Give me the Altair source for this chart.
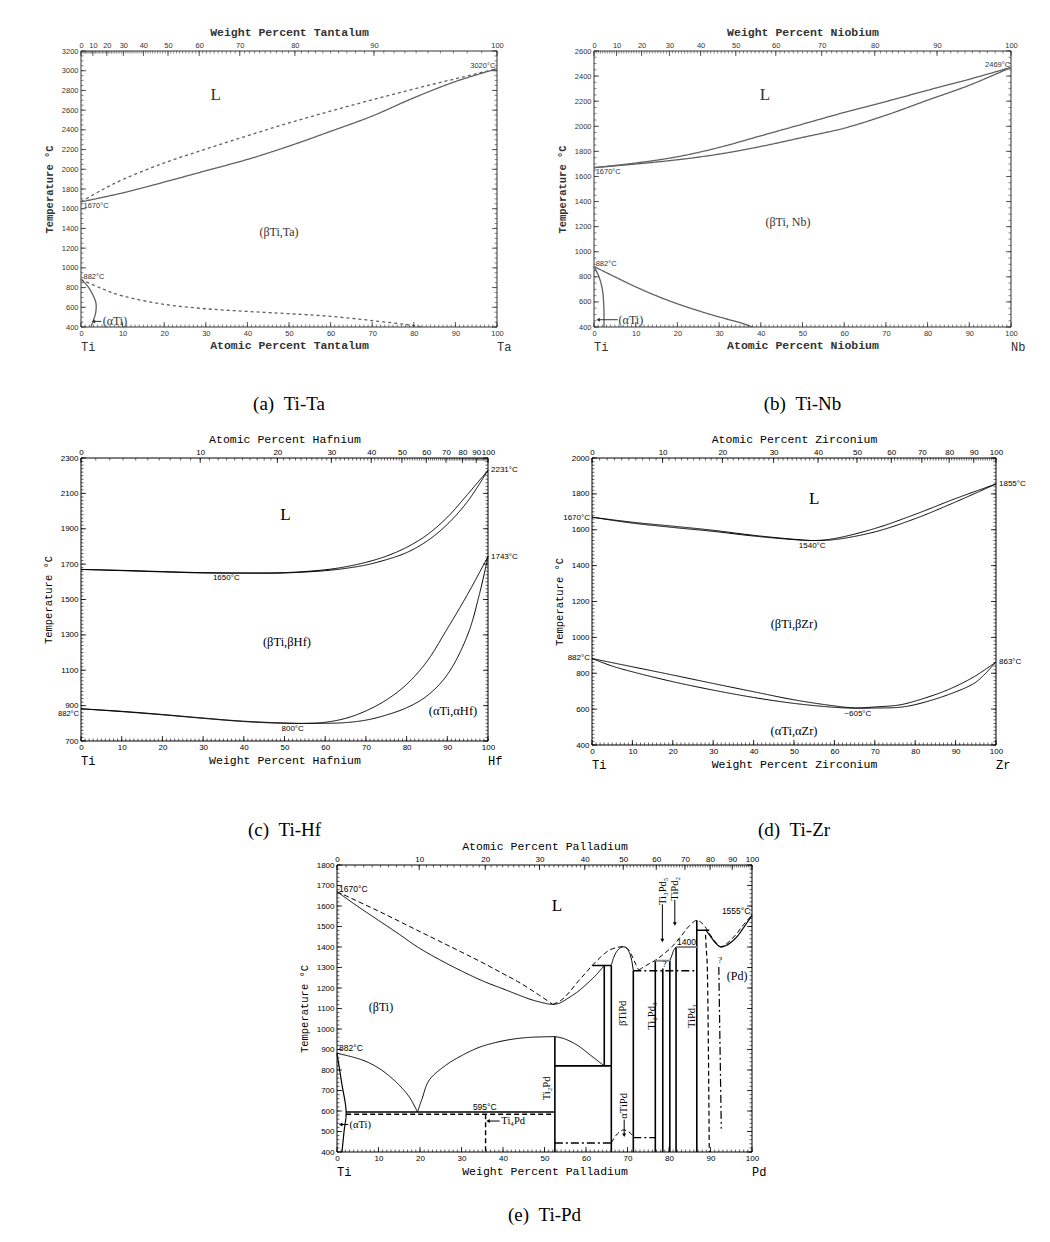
import altair as alt
import pandas as pd

SERIF = "Liberation Serif"
MONO = "Liberation Mono"
SANS = "Liberation Sans"

M_TI, M_TA, M_NB, M_HF, M_ZR, M_PD = 47.867, 180.948, 92.906, 178.49, 91.224, 106.42


def wt_to_at(w, m):
    return 100.0 * (w / m) / ((w / m) + (100.0 - w) / M_TI)


def at_to_wt(a, m):
    return 100.0 * a * m / (a * m + (100.0 - a) * M_TI)


def expr_at_to_wt(m):
    return f"format(100*datum.value*{m}/(datum.value*{m}+(100-datum.value)*{M_TI}),'.0f')"


def expr_wt_to_at(m):
    return f"format(100*(datum.value/{m})/((datum.value/{m})+(100-datum.value)/{M_TI}),'.0f')"


# ---------------- (a) Ti-Ta  (x = atomic % Ta) ----------------
TA_LIQ = [(0, 1670), (5, 1790), (10, 1895), (20, 2065), (30, 2205), (40, 2340), (50, 2470), (60, 2590),
          (70, 2705), (80, 2815), (90, 2918), (100, 3020)]
TA_SOL = [(0, 1670), (10, 1760), (20, 1870), (30, 1985), (40, 2100), (50, 2235), (60, 2385),
          (70, 2540), (80, 2725), (90, 2890), (100, 3020)]
TA_BETA = [(0, 882), (5, 790), (10, 715), (20, 630), (30, 585), (40, 558), (50, 535), (60, 508),
           (70, 465), (80, 415), (82, 400)]
TA_ALPHA = [(0, 882), (1.5, 820), (2.8, 730), (3.6, 640), (3.5, 540), (2.9, 460), (2.4, 400)]
TA_REGION = [("L", 32.4, 2755, 17), ("(βTi,Ta)", 47.6, 1360, 12)]
TA_TEMP_LEFT = [("1670°C", 0.6, 1623), ("882°C", 0.6, 910)]
TA_TEMP_RIGHT = [("3020°C", 99.6, 3045)]
TA_TEXT_LEFT = [("(αTi)", 5.2, 457)]
TA_ARROWS = [(4.9, 457, 3.0, 457, "triangle-left")]

# ---------------- (b) Ti-Nb  (x = atomic % Nb) ----------------
NB_LIQ = [(0, 1670), (10, 1707), (20, 1757), (30, 1831), (40, 1924), (50, 2017), (60, 2110),
          (70, 2197), (80, 2287), (90, 2375), (100, 2469)]
NB_SOL = [(0, 1670), (10, 1699), (20, 1733), (30, 1778), (40, 1839), (50, 1911), (60, 1985),
          (70, 2088), (80, 2208), (90, 2327), (100, 2469)]
NB_BETA = [(0, 882), (5, 800), (10, 720), (15, 648), (20, 585), (25, 530), (30, 480), (35, 435), (38, 400)]
NB_ALPHA = [(0, 882), (1.2, 800), (2.0, 700), (2.3, 600), (2.4, 500), (2.4, 400)]
NB_REGION = [("L", 41, 2250, 17), ("(βTi, Nb)", 46.5, 1235, 12)]
NB_TEMP_LEFT = [("1670°C", 0.4, 1633), ("882°C", 0.4, 906)]
NB_TEMP_RIGHT = [("2469°C", 99.8, 2490)]
NB_TEXT_LEFT = [("(αTi)", 5.9, 458)]
NB_ARROWS = [(5.7, 458, 1.0, 458, "triangle-left")]

# ---------------- (c) Ti-Hf  (x = weight % Hf) ----------------
HF_LIQ = [(0, 1670), (10, 1665), (20, 1658), (30, 1652), (40, 1650), (50, 1652), (60, 1668), (65, 1685),
          (70, 1710), (75, 1745), (80, 1795), (85, 1865), (90, 1965), (95, 2095), (100, 2231)]
HF_SOL = [(0, 1670), (10, 1663), (20, 1656), (30, 1650), (40, 1649), (50, 1650), (60, 1663), (65, 1676),
          (70, 1695), (75, 1725), (80, 1765), (85, 1830), (90, 1925), (95, 2055), (100, 2231)]
HF_BETA = [(0, 882), (10, 868), (20, 850), (30, 830), (40, 812), (50, 802), (55, 800), (60, 806), (65, 828),
           (70, 870), (75, 932), (80, 1020), (85, 1150), (90, 1335), (95, 1530), (100, 1743)]
HF_ALPHA = [(0, 882), (10, 866), (20, 848), (30, 828), (40, 810), (50, 800), (60, 800), (65, 804), (70, 818),
            (74, 840), (80, 888), (85, 955), (90, 1075), (95, 1300), (98, 1540), (100, 1743)]
HF_REGION = [("L", 50.2, 1979, 17), ("(βTi,βHf)", 50.6, 1262, 12.5), ("(αTi,αHf)", 91.4, 872, 12.5)]
HF_TEMP_CENTER = [("1650°C", 35.7, 1619), ("800°C", 52, 768)]
HF_TEMP_OUT_RIGHT = [("2231°C", 100, 2234), ("1743°C", 100, 1740)]
HF_TEMP_OUT_LEFT = [("882°C", 0, 853)]

# ---------------- (d) Ti-Zr  (x = weight % Zr) ----------------
ZR_LIQ = [(0, 1670), (10, 1642), (20, 1620), (30, 1597), (40, 1569), (50, 1547), (55, 1540), (60, 1551),
          (70, 1607), (80, 1686), (90, 1774), (100, 1855)]
ZR_SOL = [(0, 1670), (10, 1637), (20, 1613), (30, 1591), (40, 1565), (50, 1545), (55, 1540), (60, 1545),
          (70, 1588), (80, 1662), (90, 1755), (100, 1855)]
ZR_BETA = [(0, 882), (10, 836), (20, 790), (30, 743), (40, 697), (50, 652), (60, 618), (65, 607), (70, 612),
           (76, 623), (80, 645), (88, 707), (94.6, 781), (100, 863)]
ZR_ALPHA = [(0, 882), (5, 840), (10, 808), (20, 753), (30, 706), (40, 665), (50, 632), (60, 610), (65, 605),
            (70, 606), (76, 610), (80, 625), (88, 679), (94.6, 744), (97, 790), (100, 863)]
ZR_REGION = [("L", 55, 1770, 17), ("(βTi,βZr)", 50, 1074, 12.5), ("(αTi,αZr)", 50, 480, 12.5)]
ZR_TEMP_CENTER = [("1540°C", 54.5, 1510), ("~605°C", 65.8, 573)]
ZR_TEMP_OUT_RIGHT = [("1855°C", 100, 1857), ("863°C", 100, 863)]
ZR_TEMP_OUT_LEFT = [("1670°C", 0, 1668), ("882°C", 0, 883)]

# ---------------- (e) Ti-Pd  (x = weight % Pd) ----------------
PD_LIQ_L = [(0, 1670), (5, 1598), (10, 1530), (15, 1462), (19.4, 1400), (25, 1335), (30, 1283), (35.4, 1232),
            (40, 1196), (43.5, 1168), (47, 1142), (51, 1122), (52, 1120)]
PD_LIQ_L_DASH = [(0, 1670), (10, 1575), (20, 1475), (30, 1375), (35.4, 1320), (40, 1270), (43.5, 1232),
                 (48, 1175), (52, 1120)]
PD_LIQ_M = [(52, 1120), (53.5, 1125), (55.5, 1148), (58, 1182), (60.3, 1222), (62.5, 1265), (64.4, 1310)]
PD_LIQ_M_DASH = [(52, 1120), (54, 1140), (56, 1180), (58, 1230), (60, 1275), (61.5, 1310), (63.5, 1350),
                 (65.5, 1383), (67.5, 1398), (69, 1401), (70, 1392), (71, 1360), (72, 1315), (72.7, 1287)]
PD_BTIPD = [(66.1, 1310), (66.6, 1345), (67.3, 1375), (68.2, 1395), (69, 1401), (69.8, 1395), (70.5, 1370),
            (71, 1335), (71.4, 1284)]
PD_LIQ_R_DASH = [(72.7, 1287), (74.5, 1310), (76.7, 1335), (78.5, 1362), (80.7, 1401), (83.1, 1458), (85, 1505),
                 (86.7, 1530), (88, 1515), (89, 1490), (90, 1458), (91.3, 1422), (92.4, 1401), (94, 1418),
                 (96, 1458), (98, 1510), (100, 1555)]
PD_LIQ_R = [(88.9, 1482), (90, 1452), (91.2, 1420), (92.4, 1401), (94, 1410), (96, 1442), (98, 1495), (100, 1555)]
PD_ALPHA = [(0, 882), (1.1, 740), (2.2, 595), (1.7, 500), (1.2, 400)]
PD_BETA_L = [(0, 882), (6.2, 848), (10.2, 807), (14.2, 742), (17.4, 669), (19.4, 595)]
PD_BETA_R = [(19.4, 595), (20.5, 660), (22.2, 750), (26.2, 823), (30.2, 872), (34.2, 910), (38.2, 934),
             (42.2, 950), (46.3, 959), (52.5, 963)]
PD_TI2PD_R = [(52.5, 963), (54.7, 953), (57.9, 921), (61.1, 872), (64.4, 820)]
PD_ATIPD = [(66.1, 444), (67.2, 480), (68.2, 500), (69.1, 508), (70, 502), (70.8, 490), (71.4, 478)]
PD_TIPD2_EDGE = [(80.2, 1333), (80.7, 1360), (81.1, 1382), (81.7, 1400)]
PD_DASH_V = [(88.8, 1460), (89.0, 1385), (89.2, 1320), (89.7, 400)]
PD_DASHDOT_V = [(92.0, 1303), (92.6, 514)]
PD_SOLID_SEGS = [[(61.5, 1310), (66.1, 1310)], [(64.4, 1310), (64.4, 820)], [(66.1, 1310), (66.1, 400)],
                 [(52.5, 820), (66.1, 820)], [(52.5, 963), (52.5, 400)], [(2.2, 595), (52.5, 595)],
                 [(71.4, 1284), (71.4, 400)], [(76.7, 1333), (76.7, 400)], [(78.5, 1295), (78.5, 400)],
                 [(80.2, 1333), (80.2, 400)], [(81.7, 1400), (81.7, 400)], [(86.7, 1531), (86.7, 400)],
                 [(86.7, 1482), (89.7, 1482)]]
PD_GRAY_SEGS = [[(76.7, 1333), (80.2, 1333)], [(81.7, 1400), (86.7, 1400)]]
PD_DASH_SEGS = [[(2.2, 584), (52.5, 584)], [(35.8, 584), (35.8, 400)]]
PD_DASHDOT_SEGS = [[(52.5, 444), (66.1, 444)], [(71.4, 470), (76.7, 470)], [(71.4, 1284), (86.7, 1284)]]
PD_REGION = [("L", 53, 1600, 17), ("(βTi)", 10.6, 1105, 12), ("(Pd)", 96.4, 1259, 12),
             ("?", 78.9, 1318, 9), ("?", 92.3, 1335, 9)]
PD_TEMP_LEFT = [("1670°C", 0.5, 1683), ("882°C", 0.5, 908)]
PD_TEMP_CENTER = [("595°C", 35.6, 619), ("1400", 84.2, 1422)]
PD_TEMP_RIGHT = [("1555°C", 99.6, 1574)]
PD_TEXT_LEFT = [("Ti₄Pd", 39.6, 551), ("(αTi)", 3.0, 534)]
PD_VERTICAL = [("Ti₂Pd", 50.6, 710), ("βTiPd", 69.0, 1076), ("αTiPd", 69.2, 625), ("Ti₂Pd₃", 75.9, 1063),
               ("TiPd₃", 85.6, 1063), ("Ti₃Pd₅", 78.5, 1672), ("TiPd₂", 81.4, 1684)]
PD_ARROWS = [(39.2, 551, 36.4, 551, "triangle-left"), (2.7, 534, 0.9, 534, "triangle-left"),
             (69.2, 558, 69.2, 482, "triangle-down"), (78.4, 1608, 78.4, 1432, "triangle-down"),
             (81.4, 1630, 81.4, 1512, "triangle-down")]

DASH_NAMES = ["solid", "dashed", "dashdot", "shortdash"]
DASH_PATTERNS = [[1, 0], [5, 3], [8, 3, 2, 3], [3, 3]]


def make_panel(cfg):
    W, H = cfg["W"], cfg["H"]
    ink = cfg["ink"]
    ymin, ymax = cfg["ymin"], cfg["ymax"]
    xs = alt.Scale(domain=[0, 100], nice=False, zero=False)
    ys = alt.Scale(domain=[ymin, ymax], nice=False, zero=False)

    rows = []
    for g, (pts, dash, w, c) in enumerate(cfg["lines"]):
        for i, (x, t) in enumerate(pts):
            rows.append({"x": x, "T": t, "g": g, "i": i, "dash": dash, "w": w, "c": c})
    ldf = pd.DataFrame(rows)

    xaxis = alt.Axis(orient="bottom", values=list(range(0, 101, 10)), format="d", ticks=False, domain=False,
                     grid=False, labelFont=SANS, labelFontSize=cfg["tfs"], labelColor=ink, labelPadding=2,
                     labelFlush=False, labelOverlap=False, title=cfg["bottom_title"], titleFont=MONO,
                     titleFontSize=11.5, titleFontWeight=cfg["tw"], titleColor=ink, titlePadding=3)
    yaxis = alt.Axis(orient="left", values=list(range(ymin, ymax + 1, cfg["ystep"])), format="d", ticks=False,
                     domain=False, grid=False,
                     labelFont=SANS, labelFontSize=cfg["tfs"], labelColor=ink, labelPadding=3,
                     labelFlush=False, labelOverlap=False, title="Temperature °C", titleFont=MONO,
                     titleFontSize=10.5, titleFontWeight=cfg["tw"], titleColor=ink, titlePadding=7)
    topaxis = alt.Axis(orient="top", values=cfg["top_major"], labelExpr=cfg["top_expr"], ticks=False,
                       domain=False, grid=False, labelFont=SANS, labelFontSize=cfg["tfs"], labelColor=ink,
                       labelPadding=2, labelFlush=False, labelOverlap=False, title=cfg["top_title"],
                       titleFont=MONO, titleFontSize=11.5, titleFontWeight=cfg["tw"], titleColor=ink,
                       titlePadding=4)

    layers = []
    frame = alt.Chart(pd.DataFrame({"k": [0]})).mark_rect(fillOpacity=0, stroke=ink, strokeWidth=1).encode(
        x=alt.value(0), x2=alt.value(W), y=alt.value(0), y2=alt.value(H))
    layers.append(frame)

    lines = alt.Chart(ldf).mark_line(interpolate="catmull-rom").encode(
        x=alt.X("x:Q", scale=xs, axis=xaxis),
        y=alt.Y("T:Q", scale=ys, axis=yaxis),
        detail="g:N",
        order="i:Q",
        strokeDash=alt.StrokeDash("dash:N", scale=alt.Scale(domain=DASH_NAMES, range=DASH_PATTERNS), legend=None),
        strokeWidth=alt.StrokeWidth("w:Q", scale=None),
        color=alt.Color("c:N", scale=None),
    )
    layers.append(lines)

    top = alt.Chart(pd.DataFrame({"x": cfg["top_major"]})).mark_rule(color=ink, strokeWidth=0.8).encode(
        x=alt.X("x:Q", scale=xs, axis=topaxis), y=alt.value(0), y2=alt.value(5))
    layers.append(top)
    top_minor = alt.Chart(pd.DataFrame({"x": cfg["top_minor"]})).mark_rule(color=ink, strokeWidth=0.6).encode(
        x=alt.X("x:Q", scale=xs, axis=None), y=alt.value(0), y2=alt.value(2.5))
    layers.append(top_minor)

    bmaj = list(range(0, 101, 10))
    bmin = list(range(0, 101, 1))
    for vals, ln, sw in [(bmaj, 5, 0.8), (bmin, 2.5, 0.6)]:
        layers.append(alt.Chart(pd.DataFrame({"x": vals})).mark_rule(color=ink, strokeWidth=sw).encode(
            x=alt.X("x:Q", scale=xs, axis=None), y=alt.value(H), y2=alt.value(H - ln)))
    ymaj = list(range(ymin, ymax + 1, cfg["ystep"]))
    ymn = list(range(ymin, ymax + 1, cfg["yminor"]))
    for vals, ln, sw in [(ymaj, 5, 0.8), (ymn, 2.5, 0.6)]:
        layers.append(alt.Chart(pd.DataFrame({"T": vals})).mark_rule(color=ink, strokeWidth=sw).encode(
            y=alt.Y("T:Q", scale=ys, axis=None), x=alt.value(0), x2=alt.value(ln)))
        layers.append(alt.Chart(pd.DataFrame({"T": vals})).mark_rule(color=ink, strokeWidth=sw).encode(
            y=alt.Y("T:Q", scale=ys, axis=None), x=alt.value(W), x2=alt.value(W - ln)))

    def text_layer(recs, align="center", font=SERIF, size=8, angle=0, dx=0, weight="normal"):
        if len(recs[0]) == 4:
            df = pd.DataFrame(recs, columns=["t", "x", "T", "s"])
        else:
            df = pd.DataFrame(recs, columns=["t", "x", "T"])
            df["s"] = size
        return alt.Chart(df).mark_text(align=align, baseline="middle", font=font, angle=angle, dx=dx,
                                       color=ink, fontWeight=weight).encode(
            x=alt.X("x:Q", scale=xs, axis=None), y=alt.Y("T:Q", scale=ys, axis=None), text="t:N",
            size=alt.Size("s:Q", scale=None))

    for t in cfg["texts"]:
        layers.append(text_layer(**t))

    if cfg.get("arrows"):
        adf = pd.DataFrame(cfg["arrows"], columns=["x", "T", "x2", "T2", "shape"])
        layers.append(alt.Chart(adf).mark_rule(color=ink, strokeWidth=1).encode(
            x=alt.X("x:Q", scale=xs, axis=None), x2="x2:Q",
            y=alt.Y("T:Q", scale=ys, axis=None), y2="T2:Q"))
        layers.append(alt.Chart(adf).mark_point(filled=True, color=ink, opacity=1, size=16).encode(
            x=alt.X("x2:Q", scale=xs, axis=None), y=alt.Y("T2:Q", scale=ys, axis=None),
            shape=alt.Shape("shape:N", scale=None)))

    edf = pd.DataFrame({"t": cfg["elements"], "x": [0, 100]})
    layers.append(alt.Chart(edf).mark_text(align="left", baseline="middle", font=MONO, fontSize=12,
                                           color=ink).encode(
        x=alt.X("x:Q", scale=xs, axis=None), y=alt.value(H + 20), text="t:N"))

    return alt.layer(*layers).resolve_axis(x="independent", y="independent").properties(
        width=W, height=H,
        title=alt.TitleParams(cfg["caption"], orient="bottom", font=SERIF, fontSize=19, fontWeight="normal",
                              color="black", offset=cfg["cap_off"], anchor="middle"))


GRAY = "#606060"
NB2 = "\u00a0\u00a0"

pa = make_panel(dict(
    W=416, H=276, ymin=400, ymax=3200, ystep=200, yminor=50, ink="#333333", tfs=7.5, tw="bold",
    lines=[(TA_LIQ, "shortdash", 1.3, GRAY), (TA_SOL, "solid", 1.3, GRAY), (TA_BETA, "shortdash", 1.3, GRAY),
           (TA_ALPHA, "solid", 1.3, GRAY)],
    top_major=[wt_to_at(w, M_TA) for w in range(0, 101, 10)],
    top_minor=[wt_to_at(w, M_TA) for w in range(0, 101, 1)],
    top_expr=expr_at_to_wt(M_TA), top_title="Weight Percent Tantalum", bottom_title="Atomic Percent Tantalum",
    texts=[dict(recs=TA_REGION, align="center", font=SERIF),
           dict(recs=TA_TEMP_LEFT, align="left", font=SANS, size=7.5),
           dict(recs=TA_TEMP_RIGHT, align="right", font=SANS, size=7.5),
           dict(recs=TA_TEXT_LEFT, align="left", font=SERIF, size=12)],
    arrows=TA_ARROWS, elements=["Ti", "Ta"], caption="(a)" + NB2 + "Ti-Ta", cap_off=42))

pb = make_panel(dict(
    W=417, H=276, ymin=400, ymax=2600, ystep=200, yminor=50, ink="#333333", tfs=7.5, tw="bold",
    lines=[(NB_LIQ, "solid", 1.3, GRAY), (NB_SOL, "solid", 1.3, GRAY), (NB_BETA, "solid", 1.3, GRAY),
           (NB_ALPHA, "solid", 1.3, GRAY)],
    top_major=[wt_to_at(w, M_NB) for w in range(0, 101, 10)],
    top_minor=[wt_to_at(w, M_NB) for w in range(0, 101, 1)],
    top_expr=expr_at_to_wt(M_NB), top_title="Weight Percent Niobium", bottom_title="Atomic Percent Niobium",
    texts=[dict(recs=NB_REGION, align="center", font=SERIF),
           dict(recs=NB_TEMP_LEFT, align="left", font=SANS, size=7.5),
           dict(recs=NB_TEMP_RIGHT, align="right", font=SANS, size=7.5),
           dict(recs=NB_TEXT_LEFT, align="left", font=SERIF, size=12)],
    arrows=NB_ARROWS, elements=["Ti", "Nb"], caption="(b)" + NB2 + "Ti-Nb", cap_off=42))

pc = make_panel(dict(
    W=407, H=283, ymin=700, ymax=2300, ystep=200, yminor=20, ink="black", tfs=8, tw="normal",
    lines=[(HF_LIQ, "solid", 1, "black"), (HF_SOL, "solid", 1, "black"), (HF_BETA, "solid", 1, "black"),
           (HF_ALPHA, "solid", 1, "black")],
    top_major=[at_to_wt(a, M_HF) for a in range(0, 101, 10)],
    top_minor=[at_to_wt(a, M_HF) for a in range(0, 101, 1)],
    top_expr=expr_wt_to_at(M_HF), top_title="Atomic Percent Hafnium", bottom_title="Weight Percent Hafnium",
    texts=[dict(recs=HF_REGION, align="center", font=SERIF),
           dict(recs=HF_TEMP_CENTER, align="center", font=SANS, size=8),
           dict(recs=HF_TEMP_OUT_RIGHT, align="left", font=SANS, size=8, dx=3),
           dict(recs=HF_TEMP_OUT_LEFT, align="right", font=SANS, size=7.5, dx=-2)],
    arrows=None, elements=["Ti", "Hf"], caption="(c)" + NB2 + "Ti-Hf", cap_off=54))

pd_ = make_panel(dict(
    W=404, H=287, ymin=400, ymax=2000, ystep=200, yminor=20, ink="black", tfs=8, tw="normal",
    lines=[(ZR_LIQ, "solid", 1, "black"), (ZR_SOL, "solid", 1, "black"), (ZR_BETA, "solid", 1, "black"),
           (ZR_ALPHA, "solid", 1, "black")],
    top_major=[at_to_wt(a, M_ZR) for a in range(0, 101, 10)],
    top_minor=[at_to_wt(a, M_ZR) for a in range(0, 101, 1)],
    top_expr=expr_wt_to_at(M_ZR), top_title="Atomic Percent Zirconium", bottom_title="Weight Percent Zirconium",
    texts=[dict(recs=ZR_REGION, align="center", font=SERIF),
           dict(recs=ZR_TEMP_CENTER, align="center", font=SANS, size=8),
           dict(recs=ZR_TEMP_OUT_RIGHT, align="left", font=SANS, size=8, dx=3),
           dict(recs=ZR_TEMP_OUT_LEFT, align="right", font=SANS, size=8, dx=-2)],
    arrows=None, elements=["Ti", "Zr"], caption="(d)" + NB2 + "Ti-Zr", cap_off=50))

pd_lines = [(PD_LIQ_L, "solid", 1, "black"), (PD_LIQ_L_DASH, "dashed", 1, "black"),
            (PD_LIQ_M, "solid", 1, "black"), (PD_LIQ_M_DASH, "dashed", 1, "black"),
            (PD_BTIPD, "solid", 1, "black"), (PD_LIQ_R_DASH, "dashed", 1, "black"),
            (PD_LIQ_R, "solid", 1.2, "black"), (PD_ALPHA, "solid", 1.2, "black"),
            (PD_BETA_L, "solid", 1, "black"), (PD_BETA_R, "solid", 1, "black"),
            (PD_TI2PD_R, "solid", 1, "black"), (PD_ATIPD, "dashed", 1, "black"),
            (PD_TIPD2_EDGE, "solid", 1, "black"), (PD_DASH_V, "dashed", 1.2, "black"),
            (PD_DASHDOT_V, "dashdot", 1.2, "black")]
pd_lines += [(s, "solid", 1.6, "black") for s in PD_SOLID_SEGS]
pd_lines += [(s, "solid", 2, "#8a8a8a") for s in PD_GRAY_SEGS]
pd_lines += [(s, "dashed", 1.4, "black") for s in PD_DASH_SEGS]
pd_lines += [(s, "dashdot", 1.4, "black") for s in PD_DASHDOT_SEGS]

pe = make_panel(dict(
    W=415, H=287, ymin=400, ymax=1800, ystep=100, yminor=20, ink="black", tfs=8, tw="normal",
    lines=pd_lines,
    top_major=[at_to_wt(a, M_PD) for a in range(0, 101, 10)],
    top_minor=[at_to_wt(a, M_PD) for a in range(0, 101, 1)],
    top_expr=expr_wt_to_at(M_PD), top_title="Atomic Percent Palladium", bottom_title="Weight Percent Palladium",
    texts=[dict(recs=PD_REGION, align="center", font=SERIF),
           dict(recs=PD_TEMP_LEFT, align="left", font=SANS, size=8.5),
           dict(recs=PD_TEMP_CENTER, align="center", font=SANS, size=8.5),
           dict(recs=PD_TEMP_RIGHT, align="right", font=SANS, size=8.5),
           dict(recs=PD_TEXT_LEFT, align="left", font=SERIF, size=10.5),
           dict(recs=PD_VERTICAL, align="center", font=SERIF, size=10.5, angle=270)],
    arrows=PD_ARROWS, elements=["Ti", "Pd"], caption="(e)" + NB2 + "Ti-Pd", cap_off=28))

spacer = alt.Chart(pd.DataFrame({"k": [0]})).mark_point(opacity=0).encode(
    x=alt.value(0), y=alt.value(0)).properties(width=212, height=1)

row1 = alt.hconcat(pa, pb, spacing=45)
row2 = alt.hconcat(pc, pd_, spacing=36)
row3 = alt.hconcat(spacer, pe, spacing=6)
upper = alt.vconcat(row1, row2, spacing=19)
chart = alt.vconcat(upper, row3, spacing=0).properties(
    padding={"left": 35, "top": 18, "right": 2, "bottom": 4}, background="white"
).configure_view(strokeWidth=0)

chart.save("out.html", embed_options={"renderer": "svg", "actions": False})
